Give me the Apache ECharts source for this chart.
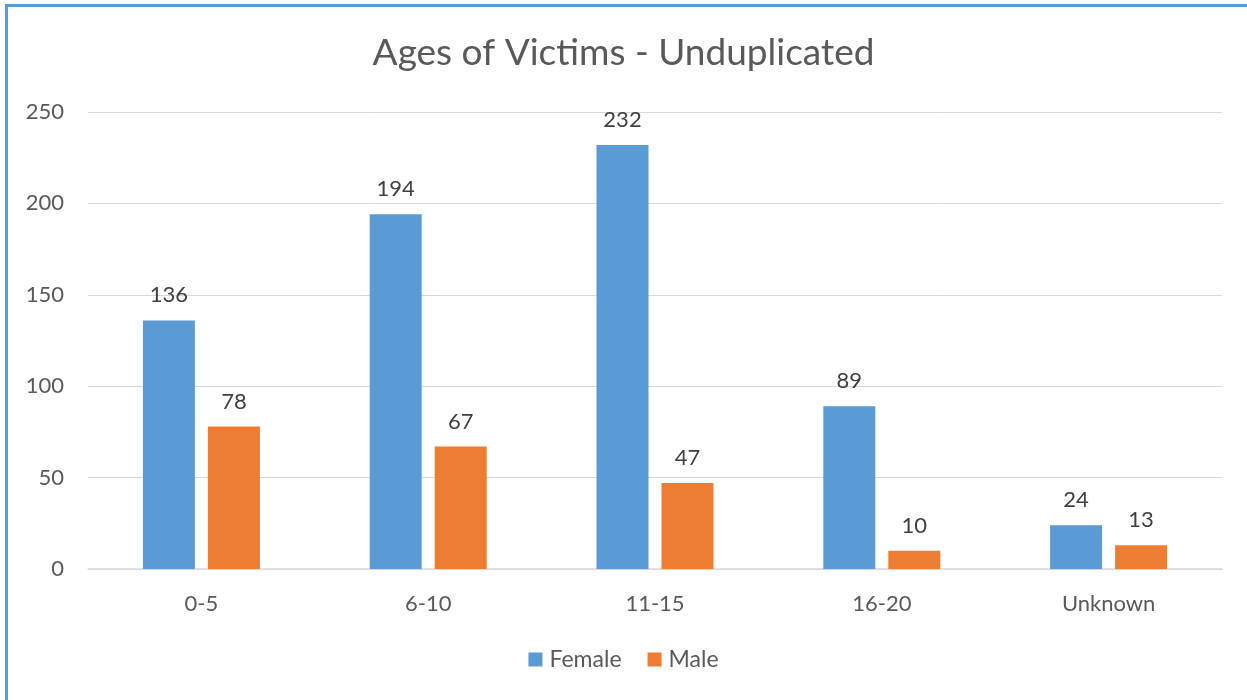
<!DOCTYPE html>
<html>
<head>
<meta charset="utf-8">
<script src="https://cdn.jsdelivr.net/npm/echarts@6/dist/echarts.min.js"></script>
<style>
  html, body { margin: 0; padding: 0; background: #fff; }
  #chart { width: 1247px; height: 700px; }
  /* blue frame of the original picture */
  .frame {
    position: absolute; left: 5px; top: 4px; width: 1260px; height: 720px;
    border: 3px solid #5b9bd5; pointer-events: none;
  }
</style>
</head>
<body>
<div id="chart"></div>
<div class="frame"></div>
<script>
const categories = ['0-5', '6-10', '11-15', '16-20', 'Unknown']
const female = [136, 194, 232, 89, 24]
const male = [78, 67, 47, 10, 13]
const yTicks = [0, 50, 100, 150, 200, 250]

const font = 'Lato, "Open Sans", sans-serif'
const textColor = '#595959'

let myChart = echarts.init(document.getElementById('chart'))

myChart.setOption({
  title: {
    text: 'Ages of Victims - Unduplicated',
    left: 'center',
    top: 30,
    textStyle: { fontFamily: font, fontSize: 37, fontWeight: 'normal', color: textColor },
  },
  legend: {
    bottom: 24,
    left: 'center',
    itemWidth: 14,
    itemHeight: 14,
    itemGap: 26,
    icon: 'rect',
    textStyle: { fontFamily: font, fontSize: 23, color: textColor, padding: [0, 0, 0, 2] },
    data: ['Female', 'Male'],
  },
  grid: { left: 88, right: 25, top: 112, bottom: 131 },
  xAxis: {
    type: 'category',
    data: categories,
    axisLine: { lineStyle: { color: '#d9d9d9', width: 1.5 } },
    axisTick: { show: false },
    axisLabel: { fontFamily: font, fontSize: 22, color: textColor, margin: 24 },
  },
  yAxis: {
    type: 'value',
    min: yTicks[0],
    max: yTicks[yTicks.length - 1],
    interval: 50,
    axisLine: { show: false },
    axisTick: { show: false },
    axisLabel: { fontFamily: font, fontSize: 22, color: textColor, margin: 24 },
    splitLine: { lineStyle: { color: '#d9d9d9', width: 1 } },
  },
  series: [
    {
      name: 'Female',
      type: 'bar',
      data: female,
      barWidth: 52,
      barGap: '25%',
      itemStyle: { color: '#5b9bd5' },
      label: { show: true, position: 'top', distance: 14, fontFamily: font, fontSize: 22, color: '#404040' },
    },
    {
      name: 'Male',
      type: 'bar',
      data: male,
      barWidth: 52,
      barGap: '25%',
      itemStyle: { color: '#ed7d31' },
      label: { show: true, position: 'top', distance: 14, fontFamily: font, fontSize: 22, color: '#404040' },
    },
  ],
})
</script>
</body>
</html>
